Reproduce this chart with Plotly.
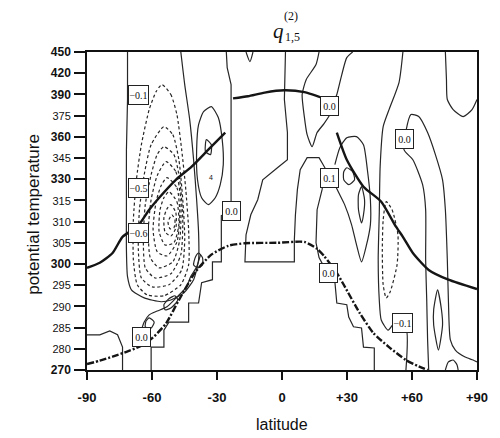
import numpy as np
import plotly.graph_objects as go

# ---------------- axis definitions ----------------
THETA_TICKS = [270, 280, 285, 290, 295, 300, 305, 310, 315, 330, 345, 360, 375, 390, 420, 450]
MAJOR_THETA = [270, 300, 330, 360, 390, 420, 450]
LAT_TICKS = [-90, -60, -30, 0, 30, 60, 90]
LAT_TICK_TEXT = ["-90", "-60", "-30", "0", "+30", "+60", "+90"]

# ---------------- thick lines ----------------
thick_sh_lat = [-90, -84.1, -78.2, -73.6, -66.8, -61.3, -56.7, -49, -41.7, -34, -26.2]
thick_sh_theta = [299.1, 300.3, 302.6, 306.4, 308.8, 312.8, 316.9, 329.6, 338.9, 350.9, 363]

thick_arc_lat = [-22.6, -15.7, -8, 1.1, 10.3, 20.7]
thick_arc_theta = [387.2, 388.7, 392.6, 395.8, 393.3, 386.4]

thick_nh_lat = [25.3, 29.9, 37.6, 45.8, 52.6, 55.8, 60.4, 67.7, 76.8, 90]
thick_nh_theta = [363, 343.8, 324.7, 314.7, 308.8, 306.4, 302.6, 298.6, 296.3, 294.1]

dashdot_lat = [-90, -84.1, -78.2, -71.8, -65.8, -59.9, -53.5, -47.6, -40, -32.6, -24.8, -17.1,
               -2.1, 10.3, 16.2, 19.4, 25.3, 28.5, 35.8, 42.2, 49.4, 57.2, 63.1, 67.2]
dashdot_theta = [272.8, 274.4, 276.3, 278.6, 280.5, 282.5, 286, 291.5, 298.1, 302.2, 304.3, 304.9,
                 305, 305.2, 303.6, 301.9, 297.9, 295.1, 288.5, 283.7, 280.4, 274.7, 271.7, 270]

# ---------------- negative (dashed) contours ----------------
neg1_lat = [-55.4, -51.3, -48.5, -46.3, -44.4, -43.1, -43.1, -46.7, -54.5, -62.2, -66.8, -68.6, -68.6, -67.2, -64.9, -61.3, -58.1, -55.4]
neg1_theta = [403.9, 389.9, 375.7, 350.9, 322.6, 308.1, 299.8, 295.1, 292.5, 292.7, 295.1, 301, 310.4, 329.6, 354.4, 379.2, 393.9, 403.9]
neg2_lat = [-54.5, -50.4, -47.6, -45.8, -44.9, -46.3, -52.2, -59.9, -64.9, -66.3, -65.8, -63.6, -60.4, -54.5]
neg2_theta = [367.2, 361.5, 343.8, 315.5, 305.7, 298.6, 295.1, 294.6, 296.7, 303.3, 312.8, 333.2, 354.4, 367.2]
neg3_lat = [-54.5, -49.9, -47.2, -45.8, -46.7, -51.3, -58.6, -63.1, -64, -63.1, -60.4, -57.6, -54.5]
neg3_theta = [353, 347.4, 329.6, 310.4, 302.2, 297.7, 296.7, 299.1, 305.7, 314, 333.2, 347.4, 353]
neg4_lat = [-53.5, -49, -46.7, -47.2, -50.4, -56.7, -60.8, -61.7, -60.4, -57.6, -53.5]
neg4_theta = [342.4, 335.3, 315.5, 305.7, 300.5, 299.1, 301.5, 308.1, 315.5, 332.5, 342.4]
neg5_lat = [-53.1, -48.5, -47.2, -48.5, -53.1, -57.6, -59.5, -58.1, -55.8, -53.1]
neg5_theta = [331.1, 324, 311.6, 305.2, 301.9, 302.9, 308.1, 314.7, 325.4, 331.1]
neg6_lat = [-52.2, -48.5, -47.6, -49.9, -54, -56.7, -56.3, -54.5, -52.2]
neg6_theta = [321.2, 314.7, 309.3, 305, 304.5, 307.6, 312.8, 316.9, 321.2]
neg7_lat = [-51.3, -49, -49, -51.3, -54, -54.5, -53.1, -51.3]
neg7_theta = [314, 312.1, 308.5, 306.6, 307.6, 310.9, 313, 314]
neg8_lat = [-50.8, -49.4, -49.9, -51.7, -52.6, -50.8]
neg8_theta = [311.6, 310.4, 308.5, 308.3, 309.9, 311.6]
negnh_lat = [48.1, 50.8, 53.5, 53.1, 49.9, 48.1, 46.7, 46.3, 46.7, 48.1]
negnh_theta = [314.7, 312.8, 306.9, 299.8, 293.4, 292, 295.1, 303.3, 310.4, 314.7]

# ---------------- solid contours ----------------
c_leftu_lat = [-71.3, -71.3, -71.8, -71.8, -71.8, -71.3, -69.5, -63.6, -55.8, -51.3, -45.3, -40.8, -38.5, -38.5, -39.4, -40.8, -42.6, -44.9, -46.7]
c_leftu_theta = [450, 386.4, 350.9, 315.5, 303.3, 297, 293.9, 292, 291.1, 291.5, 293.2, 296.3, 301, 307.4, 315.5, 343.8, 372.2, 403.9, 450]
c_sw_lat = [-90, -84.1, -79.5, -75.9, -73.6, -73.6]
c_sw_theta = [283.3, 283.3, 284.2, 283.3, 280.4, 270]
c_stair_w_lat = [-25.7, -25.3, -23.5, -23.5, -23.5, -23.5, -28, -28, -32.1, -32.1, -37.1, -38.5, -43.1, -43.1, -52.2, -54.5, -54.5, -60.4, -60.4]
c_stair_w_theta = [450, 428, 403.9, 350.9, 314.7, 312.3, 311.4, 300.5, 300.5, 296.3, 295.6, 290.8, 290.8, 286.3, 286.3, 284.4, 280.4, 280.4, 270]
c_wavy_lat = [-37.6, -39.4, -42.2, -44, -48.5, -53.1, -57.6, -61.3, -63.6, -64.9]
c_wavy_theta = [302.2, 299.3, 297, 294.6, 292.2, 289.9, 288.9, 288, 286.3, 284.4]
loop_a_lat = [-38.5, -36.7, -36.7, -39, -40.8, -39.9, -38.5]
loop_a_theta = [302.6, 301.5, 299.8, 299.1, 299.8, 301.7, 302.6]
loop_b_lat = [-49.4, -48.1, -51.3, -54, -54.5, -52.2, -49.4]
loop_b_theta = [292.5, 291.5, 289.6, 289.2, 290.4, 291.8, 292.5]
loop_c_lat = [-61.3, -59, -60.4, -63.1, -62.7, -61.3]
loop_c_theta = [287.3, 286.3, 284.9, 285.2, 286.6, 287.3]
loop_e_lat = [-32.6, -29.4, -27.6, -27.1, -28.5, -30.8, -34, -37.1, -39, -39.4, -38.5, -36.2, -32.6]
loop_e_theta = [381.4, 373.6, 358, 340.3, 326.1, 316.9, 314, 316.9, 329.6, 350.9, 368.6, 377.8, 381.4]
loop_f_lat = [-34.9, -32.6, -33, -35.3, -34.9]
loop_f_theta = [358, 354.4, 347.4, 349.5, 358]
c_topv_lat = [-16.6, -14.8, -13.4]
c_topv_theta = [450, 436.5, 450]
c_center_lat = [1.6, 1.1, 2.5, 2.5, -2.1, -8.9, -11.2, -14.4, -16.6, -17.1, 5.7, 5.7, 6.2, 7.1, 8.4, 11.6, 17.1, 19.8,
                18.5, 16.2, 15.7, 17.1, 18.9, 24.4, 25.3, 29.9, 30.8, 33, 36.7, 37.6, 42.6, 42.6]
c_center_theta = [450, 386.4, 363, 343.8, 338.1, 329.6, 315.5, 311.6, 306.9, 300.5, 300.5, 305.7, 311.6, 322.6, 336.7, 345.3, 345.3, 338.1,
                  322.6, 312.8, 305, 301.5, 299.8, 295.8, 290.8, 290.4, 287.5, 285.2, 284.9, 280.4, 280.2, 270]
c_arclab_lat = [17.1, 15.7, 11.2, 9.3, 10.3, 11.6, 13.9, 16.2, 19.4, 22.1, 23.5, 25.3, 27.6, 29.9, 32.6]
c_arclab_theta = [450, 432.3, 411.1, 389.9, 374.3, 361.5, 353, 363, 369.3, 375.7, 382.1, 389.9, 418.1, 442, 450]
c_r1_lat = [24.4, 26.7, 29.9, 34.4, 37.6, 39.4, 40.8, 40.8, 39, 36.7, 34.4, 32.1, 28.9, 26.2, 24.4]
c_r1_theta = [340.3, 352.3, 359.4, 360.1, 354.4, 336.7, 315.5, 309.3, 304.5, 300.5, 304.5, 309.3, 314, 320.4, 326.1]
c_r2_lat = [29.9, 32.6, 33.5, 30.8, 28.5, 28.5, 29.9]
c_r2_theta = [338.1, 335.3, 329.6, 326.1, 329.6, 335.3, 338.1]
c_r3_lat = [36.7, 38.1, 37.6, 36.7, 35.3, 35.3, 36.7]
c_r3_theta = [324.7, 315.5, 311.6, 309.7, 312.8, 319, 324.7]
c_r4_lat = [55.8, 54, 49.4, 46.7, 45.3, 44.9, 44.4, 44.9, 45.8, 49, 51.7, 57.2, 57.2]
c_r4_theta = [450, 406.8, 379.2, 367.2, 338.9, 312.1, 301, 291.5, 286.8, 284.4, 285.9, 284.9, 270]
c_r5_lat = [67.7, 67.2, 66.8, 66.3, 66.3, 64.9, 60.4, 56.3, 59.5, 63.1, 67.2, 70.8, 74.1, 75.4, 76.3, 76.8, 77.7, 80, 84.5, 88.2, 90]
c_r5_theta = [270, 282.1, 291.5, 301, 312.8, 326.1, 343.8, 350.9, 375.7, 374.3, 363, 347.4, 329.6, 312.8, 301, 291.5, 282.1, 279.4, 276.1, 274.7, 273.8]
c_bump_lat = [75.4, 76.8, 79, 80.8, 81.3]
c_bump_theta = [270, 273.8, 274.7, 272.4, 270]
c_r6_lat = [75.4, 75.9, 76.3, 79, 83.6, 87.7, 90]
c_r6_theta = [450, 411.1, 386.4, 379.2, 374.3, 379.2, 386.4]
c_r7_lat = [71.8, 73.6, 74.1, 72.2, 70, 70, 71.8]
c_r7_theta = [293.9, 289.2, 285.6, 279.4, 285.6, 289.2, 293.9]

# ---------------- contour labels ----------------
label_text = ["\u22120.1", "\u22120.5", "\u22120.6", "0.0", "0.0", "0.1", "0.0", "0.0", "\u22120.1", "0.0"]
label_lat = [-66.1, -66.3, -66.3, -23.5, 22.1, 22.1, 56.7, 21.6, 55.8, -64.9]
label_theta = [389.9, 324, 307.4, 312.6, 382.1, 331.1, 358.7, 297.9, 286.1, 282.8]


def to_axis(theta):
    return np.interp(theta, THETA_TICKS, np.arange(len(THETA_TICKS)))


fig = go.Figure()
INK = "#151515"
THIN = "#262626"


def add_line(lat, theta, width=1.0, dash="solid", shape="spline", color=THIN):
    fig.add_trace(go.Scatter(x=lat, y=to_axis(theta), mode="lines",
                             line=dict(color=color, width=width, dash=dash, shape=shape, smoothing=0.6),
                             hoverinfo="skip", showlegend=False))


for la, th in [(neg1_lat, neg1_theta), (neg2_lat, neg2_theta), (neg3_lat, neg3_theta),
               (neg4_lat, neg4_theta), (neg5_lat, neg5_theta), (neg6_lat, neg6_theta),
               (neg7_lat, neg7_theta), (neg8_lat, neg8_theta), (negnh_lat, negnh_theta)]:
    add_line(la, th, width=1.2, dash="3px,2.5px")

for la, th in [(c_leftu_lat, c_leftu_theta), (c_wavy_lat, c_wavy_theta),
               (loop_a_lat, loop_a_theta), (loop_b_lat, loop_b_theta), (loop_c_lat, loop_c_theta),
               (loop_e_lat, loop_e_theta), (loop_f_lat, loop_f_theta), (c_arclab_lat, c_arclab_theta),
               (c_r1_lat, c_r1_theta), (c_r2_lat, c_r2_theta), (c_r3_lat, c_r3_theta),
               (c_r4_lat, c_r4_theta), (c_r5_lat, c_r5_theta), (c_bump_lat, c_bump_theta),
               (c_r6_lat, c_r6_theta), (c_r7_lat, c_r7_theta), (c_topv_lat, c_topv_theta)]:
    add_line(la, th, width=1.2)

for la, th in [(c_sw_lat, c_sw_theta), (c_stair_w_lat, c_stair_w_theta), (c_center_lat, c_center_theta)]:
    add_line(la, th, width=1.2, shape="linear")

add_line(thick_sh_lat, thick_sh_theta, width=2.4, color=INK)
add_line(thick_arc_lat, thick_arc_theta, width=2.4, color=INK)
add_line(thick_nh_lat, thick_nh_theta, width=2.4, color=INK)
add_line(dashdot_lat, dashdot_theta, width=2.4, dash="7px,2px,2px,2px", color=INK)

annotations = []
for t, la, th in zip(label_text, label_lat, label_theta):
    annotations.append(dict(x=la, y=float(to_axis(th)), xref="x", yref="y", text=t, showarrow=False,
                            xanchor="center", yanchor="middle",
                            bgcolor="white", bordercolor="#222", borderwidth=1, borderpad=0,
                            width=17 if len(t) == 3 else 19, height=18,
                            font=dict(family="Liberation Serif", size=10, color="#111")))
annotations.append(dict(x=-32.6, y=float(to_axis(331.1)), xref="x", yref="y", text="4", showarrow=False,
                        xanchor="center", yanchor="middle",
                        font=dict(family="Liberation Sans", size=7, color="#111")))


def paper_text(x, y, text, size, family, angle=0):
    return dict(x=x, y=y, xref="paper", yref="paper", text=text, showarrow=False,
                xanchor="center", yanchor="middle", textangle=angle,
                font=dict(family=family, size=size, color="#111"))


# title q^(2)_{1,5}, axis titles
annotations += [
    paper_text(0.491, 1.066, "<i>q</i>", 21, "Liberation Serif"),
    paper_text(0.524, 1.113, "(2)", 12, "Liberation Serif"),
    paper_text(0.528, 1.046, "1,5", 12, "Liberation Serif"),
    paper_text(-0.137, 0.49, "potential temperature", 17, "Liberation Sans", -90),
    paper_text(0.499, -0.172, "latitude", 16, "Liberation Sans"),
]

y_ticktext = []
for v in THETA_TICKS:
    if v in MAJOR_THETA:
        y_ticktext.append("<b>%d</b>" % v)
    else:
        y_ticktext.append("<span style='font-size:11px'>%d</span>" % v)

fig.update_layout(
    width=500, height=438,
    margin=dict(l=87, r=18, t=52, b=68),
    paper_bgcolor="white", plot_bgcolor="white",
    annotations=annotations,
    xaxis=dict(range=[-90, 90], tickvals=LAT_TICKS, ticktext=["<b>%s</b>" % s for s in LAT_TICK_TEXT],
               ticks="outside", ticklen=8, tickwidth=1.5, tickcolor="#111",
               showgrid=False, zeroline=False, showline=True, mirror=True,
               linecolor="#111", linewidth=1.5, ticklabelstandoff=7,
               tickfont=dict(family="Liberation Sans", size=13, color="#111")),
    yaxis=dict(range=[0, 15], tickvals=list(range(len(THETA_TICKS))), ticktext=y_ticktext,
               ticks="outside", ticklen=11, tickwidth=1.5, tickcolor="#111",
               showgrid=False, zeroline=False, showline=True, mirror=True,
               linecolor="#111", linewidth=1.5, ticklabelstandoff=1,
               tickfont=dict(family="Liberation Sans", size=12, color="#111")),
)

fig.write_html("out.html")
